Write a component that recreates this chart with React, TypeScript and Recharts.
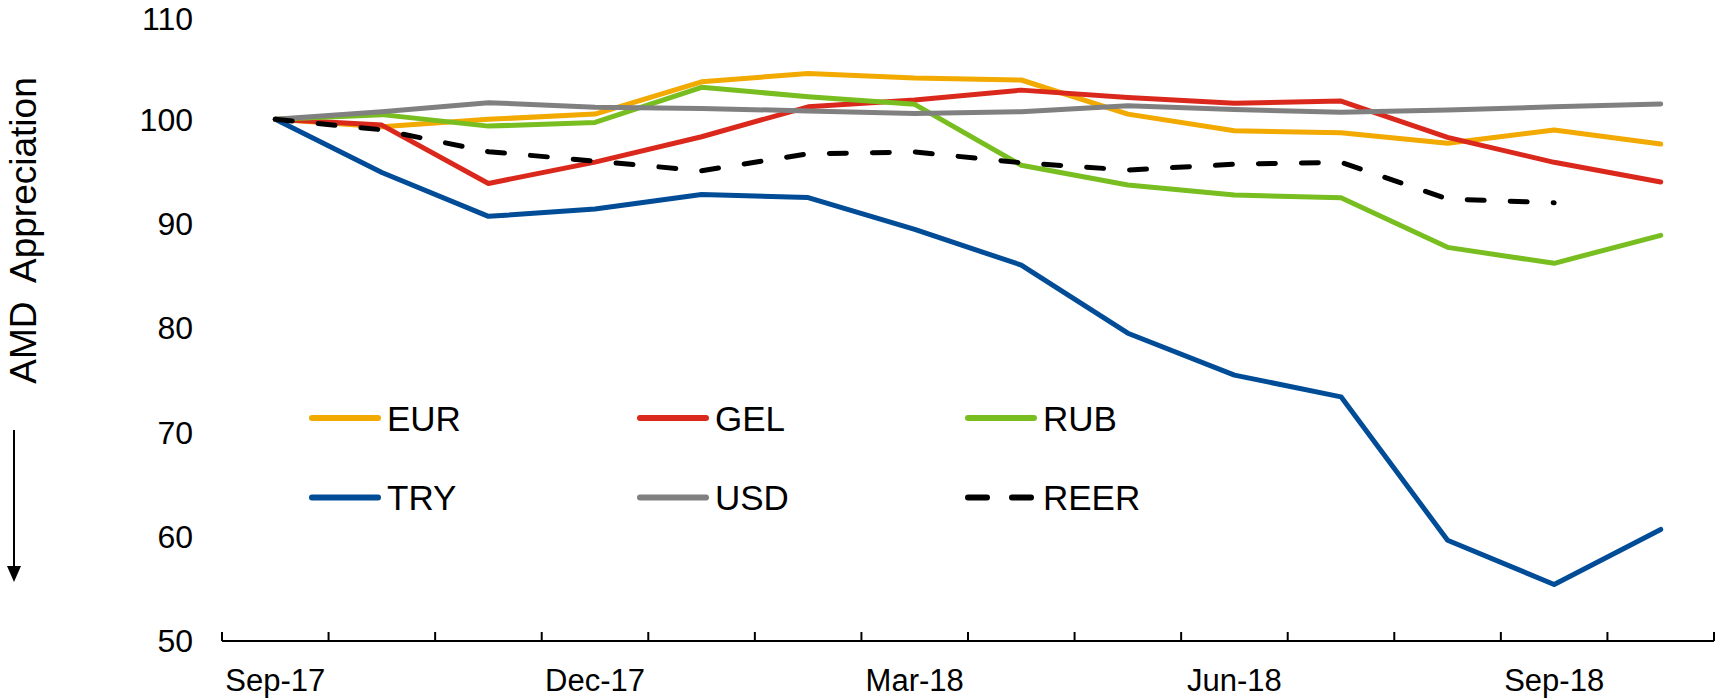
import React from 'react';
import { LineChart, Line, XAxis, YAxis, Legend } from 'recharts';

const MONTHS = ['Sep-17', 'Oct-17', 'Nov-17', 'Dec-17', 'Jan-18', 'Feb-18', 'Mar-18', 'Apr-18', 'May-18', 'Jun-18', 'Jul-18', 'Aug-18', 'Sep-18', 'Oct-18'];
const EUR = [100, 99.3, 100.0, 100.5, 103.6, 104.4, 103.96, 103.77, 100.5, 98.9, 98.72, 97.7, 98.97, 97.63];
const GEL = [100, 99.45, 93.85, 95.9, 98.33, 101.2, 101.85, 102.8, 102.1, 101.53, 101.75, 98.27, 95.88, 93.99];
const RUB = [100, 100.45, 99.35, 99.7, 103.07, 102.17, 101.44, 95.6, 93.7, 92.74, 92.48, 87.73, 86.2, 88.88];
const TRY = [100, 94.9, 90.7, 91.4, 92.8, 92.5, 89.45, 86.03, 79.5, 75.48, 73.4, 59.66, 55.42, 60.69];
const USD = [100, 100.73, 101.6, 101.15, 101.05, 100.8, 100.57, 100.73, 101.3, 100.95, 100.67, 100.9, 101.2, 101.47];
const REER = [100, 99.0, 96.9, 96.0, 95.07, 96.7, 96.87, 95.84, 95.14, 95.7, 95.88, 92.36, 92.0, null];
const Y_TICKS = [50, 60, 70, 80, 90, 100, 110];
const LABELED_MONTHS = [0, 3, 6, 9, 12];
const Y_TITLE = 'AMD  Appreciation';

const SERIES = [
  { key: 'EUR', color: '#F2A900', dashed: false },
  { key: 'GEL', color: '#DA291C', dashed: false },
  { key: 'RUB', color: '#78BE20', dashed: false },
  { key: 'TRY', color: '#004C97', dashed: false },
  { key: 'USD', color: '#808080', dashed: false },
  { key: 'REER', color: '#000000', dashed: true },
];

const VALUES: Record<string, (number | null)[]> = { EUR, GEL, RUB, TRY, USD, REER };

const data = MONTHS.map((m, i) => {
  const row: Record<string, any> = { month: m, pos: i + 0.5 };
  SERIES.forEach((s) => {
    row[s.key] = VALUES[s.key][i];
  });
  return row;
});

const X_TICKS: number[] = [];
for (let i = 0; i <= MONTHS.length; i++) X_TICKS.push(i);
LABELED_MONTHS.forEach((i) => X_TICKS.push(i + 0.5));
X_TICKS.sort((a, b) => a - b);

const FONT = '"Liberation Sans", Arial, sans-serif';
const W = 1717;
const H = 699;
const DASH = '17 26';

const XTick = (props: any) => {
  const { x, y, payload } = props;
  const v = payload.value as number;
  if (Number.isInteger(v)) {
    return <line x1={x} y1={y} x2={x} y2={y - 9} stroke="#000" strokeWidth={2} />;
  }
  return (
    <text x={x} y={y + 50} textAnchor="middle" fontSize={31} fontFamily={FONT} fill="#000">
      {MONTHS[Math.floor(v)]}
    </text>
  );
};

const YTitle = () => (
  <g>
    <text
      x={36}
      y={230.5}
      transform="rotate(-90 36 230.5)"
      textAnchor="middle"
      fontSize={37}
      fontFamily={FONT}
      fill="#000"
      style={{ whiteSpace: 'pre' }}
    >
      {Y_TITLE}
    </text>
    <line x1={14} y1={430} x2={14} y2={570} stroke="#000" strokeWidth={2} />
    <path d="M7,566 L21,566 L14,582 Z" fill="#000" />
  </g>
);

const LegendContent = () => (
  <svg width={W} height={H} style={{ position: 'absolute', left: 0, top: 0, pointerEvents: 'none' }}>
    {SERIES.map((s, idx) => {
      const col = idx % 3;
      const row = Math.floor(idx / 3);
      const x0 = 309 + col * 328;
      const yc = 418 + row * 79.5;
      return (
        <g key={s.key}>
          {s.dashed ? (
            <g>
              <line x1={x0 + 3} y1={yc} x2={x0 + 22} y2={yc} stroke={s.color} strokeWidth={6} strokeLinecap="round" />
              <line x1={x0 + 47} y1={yc} x2={x0 + 66} y2={yc} stroke={s.color} strokeWidth={6} strokeLinecap="round" />
            </g>
          ) : (
            <line x1={x0 + 3} y1={yc} x2={x0 + 69} y2={yc} stroke={s.color} strokeWidth={6} strokeLinecap="round" />
          )}
          <text x={x0 + 78} y={yc} dominantBaseline="central" fontSize={35} fontFamily={FONT} fill="#000">
            {s.key}
          </text>
        </g>
      );
    })}
  </svg>
);

export default function App() {
  return (
    <div style={{ position: 'absolute', left: 0, top: 0, width: W, height: H, background: '#fff' }}>
      <LineChart width={W} height={H} data={data} margin={{ top: 15, right: 3, left: 0, bottom: 0 }}>
        <XAxis
          dataKey="pos"
          type="number"
          domain={[0, MONTHS.length]}
          ticks={X_TICKS}
          interval={0}
          height={58}
          tickSize={0}
          tickMargin={0}
          tickLine={false}
          axisLine={{ stroke: '#000', strokeWidth: 2 }}
          tick={<XTick />}
        />
        <YAxis
          domain={[50, 110]}
          ticks={Y_TICKS}
          width={222}
          axisLine={false}
          tickLine={false}
          tickSize={0}
          tickMargin={29}
          tick={{ fontSize: 32, fontFamily: FONT, fill: '#000' }}
          label={{ content: <YTitle /> }}
        />
        <Legend
          layout="horizontal"
          verticalAlign="middle"
          align="center"
          wrapperStyle={{ left: 0, top: 0, width: W, height: 0 }}
          content={<LegendContent />}
        />
        {SERIES.map((s) => (
          <Line
            key={s.key}
            dataKey={s.key}
            stroke={s.color}
            strokeWidth={5}
            strokeDasharray={s.dashed ? DASH : undefined}
            strokeLinecap="round"
            strokeLinejoin="round"
            dot={false}
            activeDot={false}
            isAnimationActive={false}
            connectNulls={false}
          />
        ))}
      </LineChart>
    </div>
  );
}
